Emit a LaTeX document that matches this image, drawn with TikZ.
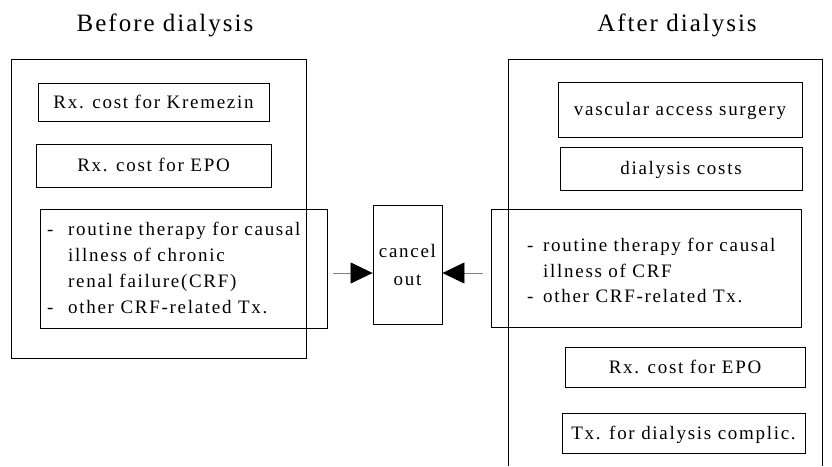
\documentclass[tikz,border=0pt]{standalone}
\usepackage{fontspec}
\setmainfont{Liberation Serif}[LetterSpace=9]
\newfontfamily\titlefont{Liberation Serif}[LetterSpace=8]
\usetikzlibrary{arrows.meta}
\tikzset{
  frame/.style={draw=black, line width=0.9pt},
  itembox/.style={draw=black, line width=0.9pt, inner sep=0pt, text height=12.5pt, text depth=0pt, font=\fontsize{19}{26}\selectfont},
  title/.style={anchor=base, inner sep=0pt, font=\titlefont\fontsize{25}{28}\selectfont},
  listline/.style={anchor=base west, inner sep=0pt, font=\fontsize{19}{26}\selectfont},
  conn/.style={draw=gray, line width=0.6pt, -{Triangle[length=22pt,width=21pt,color=black]}},
}
\begin{document}
\begin{tikzpicture}[x=1pt,y=-1pt]
\useasboundingbox (0,0) rectangle (832,466);
% titles
\node[title] (tb) at (165,31.7) {Before dialysis};
\node[title] (ta) at (677,31.7) {After dialysis};
% left outer frame
\node[frame, minimum width=295pt, minimum height=299pt, inner sep=0pt] (lf) at (158.5,208.5) {};
% right outer frame (open at the bottom)
\coordinate (rfbl) at (508,466);
\coordinate (rftl) at (508,59);
\coordinate (rftr) at (822,59);
\coordinate (rfbr) at (822,466);
\draw[line width=0.9pt] (rfbl) -- (rftl) -- (rftr) -- (rfbr);
% left items
\node[itembox, minimum width=231pt, minimum height=38pt] (kre) at (153.5,102) {Rx. cost for Kremezin};
\node[itembox, minimum width=235pt, minimum height=43pt] (epol) at (153.5,165.5) {Rx. cost for EPO};
\node[itembox, minimum width=287pt, minimum height=119pt, text height=0pt] (rtl) at (183.5,268.5) {};
\node[listline] (ld1) at (47,235) {-};
\node[listline] (l1) at (68,235) {routine therapy for causal};
\node[listline] (l2) at (68,261) {illness of chronic};
\node[listline] (l3) at (68,287) {renal failure(CRF)};
\node[listline] (ld2) at (47,313) {-};
\node[listline] (l4) at (68,313) {other CRF-related Tx.};
% cancel out
\node[draw=black, line width=0.9pt, inner sep=0pt, minimum width=69pt, minimum height=119pt] (co) at (407.5,264.5) {};
\node[listline, anchor=base] (co1) at (407.5,257) {cancel};
\node[listline, anchor=base] (co2) at (407.5,285) {out};
% right items
\node[itembox, minimum width=244pt, minimum height=55pt] (vas) at (680,109.5) {vascular access surgery};
\node[itembox, minimum width=242pt, minimum height=43pt] (dia) at (681,168.5) {dialysis costs};
\node[itembox, minimum width=310pt, minimum height=118pt, text height=0pt] (rtr) at (646,268) {};
\node[listline] (rd1) at (527,251) {-};
\node[listline] (r1) at (543,251) {routine therapy for causal};
\node[listline] (r2) at (543,277) {illness of CRF};
\node[listline] (rd2) at (527,302) {-};
\node[listline] (r3) at (543,302) {other CRF-related Tx.};
\node[itembox, minimum width=240pt, minimum height=40pt] (epor) at (685,367) {Rx. cost for EPO};
\node[itembox, minimum width=243pt, minimum height=40pt] (txd) at (683.5,433) {Tx. for dialysis complic.};
% connectors
\draw[conn, shorten <=6pt] (rtl.east |- 0,273) -- (co.west |- 0,273);
\draw[conn, shorten <=8pt] (rtr.west |- 0,273) -- (co.east |- 0,273);
\end{tikzpicture}
\end{document}
